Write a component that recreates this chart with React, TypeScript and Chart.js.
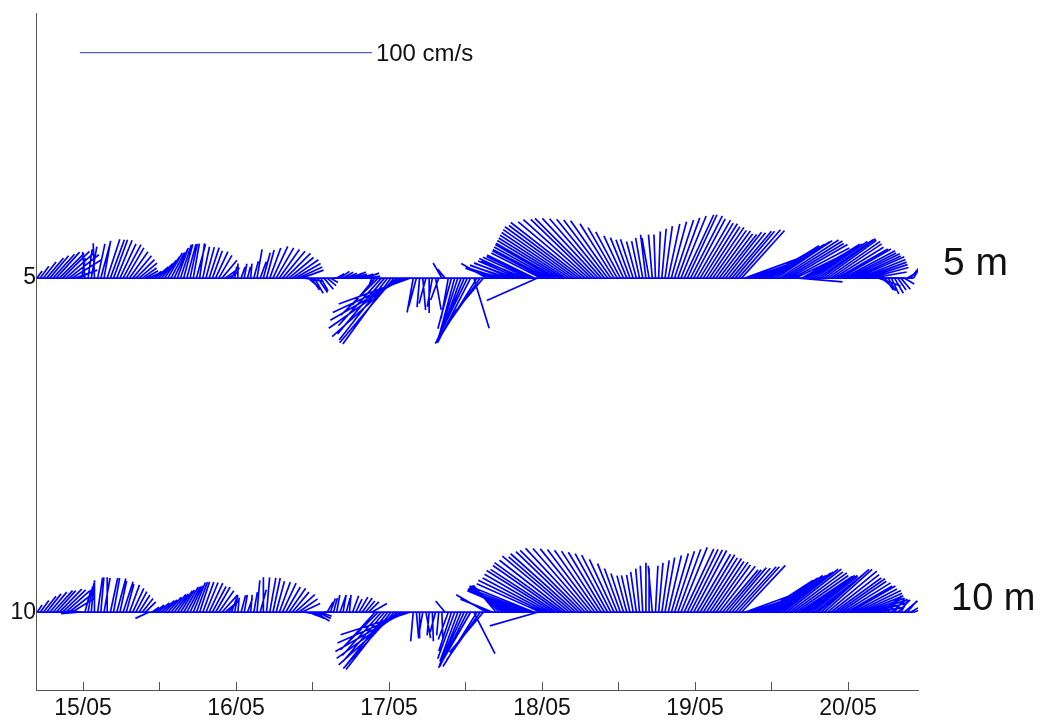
import { useEffect, useRef } from 'react';
import { Chart, registerables } from 'chart.js';

Chart.register(...registerables);

// ---- time base (days of May) ----
const START_DAY = 14.7;
const STEP_DAY = 1 / 48; // 30 min

// ---- depths (m) ----
const DEPTHS = [5, 10];
const DEPTH_LABELS = ['5 m', '10 m'];

// ---- 5 m: speed (cm/s) and direction toward (deg, clockwise from north) ----
const SPEED_5M = [
  3, 5, 7, 9, 10, 11, 12, 12, 13, 13, 13, 12,
  8, 6, 7, 9, 10, 11, 12, 12, 13, 13, 14, 14,
  14, 14, 13, 13, 12, 11, 10, 9, 8, 6, 5, 4,
  4, 6, 7, 8, 9, 10, 10, 11, 11, 12, 12, 12,
  12, 12, 12, 12, 11, 11, 11, 10, 10, 9, 8, 6,
  4, 3, 4, 5, 4, 5, 4, 5, 6, 10, 6, 9,
  10, 11, 12, 12, 12, 12, 12, 11, 11, 10, 9, 8,
  6, 5, 5, 6, 6, 5, 5, 4, 3, 2, 3, 4,
  4, 4, 5, 5, 4, 5, 4, 5, 4, 3, 12, 18,
  22, 25, 27, 28, 29, 30, 30, 29, 28, 26, 12, 10,
  10, 11, 9, 12, 10, 11, 8, 6, 4, 14, 18, 20,
  22, 23, 24, 25, 25, 18, 24, 20, 17, 10, 8, 10,
  8, 10, 12, 13, 14, 14, 15, 15, 16, 16, 17, 17,
  18, 19, 19, 20, 21, 22, 23, 24, 25, 26, 27, 28,
  29, 30, 30, 31, 30, 30, 29, 29, 28, 27, 26, 25,
  24, 22, 20, 18, 16, 15, 14, 14, 13, 13, 14, 15,
  14, 15, 15, 16, 17, 18, 19, 20, 21, 22, 23, 24,
  24, 24, 23, 23, 22, 22, 21, 21, 20, 20, 19, 19,
  20, 20, 21, 21, 22, 22, 20, 12, 14, 16, 18, 19,
  20, 21, 22, 23, 23, 24, 24, 23, 23, 22, 22, 15,
  22, 22, 21, 21, 22, 23, 23, 22, 22, 21, 20, 20,
  20, 20, 19, 19, 18, 18, 17, 16, 15, 14, 12, 10,
  8, 6, 5, 5, 6, 6, 5, 5, 4, 4, 5, 6,
];
const DIR_5M = [
  35, 36, 38, 40, 40, 42, 42, 45, 45, 48, 52, 58,
  70, 65, 10, 355, 8, 10, 358, 12, 15, 10, 18, 20,
  20, 22, 25, 28, 30, 35, 40, 45, 50, 55, 60, 65,
  55, 50, 45, 40, 35, 30, 28, 25, 20, 18, 15, 15,
  12, 10, 15, 8, 12, 15, 18, 20, 25, 30, 40, 55,
  60, 30, 10, 0, 20, 10, 15, 5, 15, 10, 20, 15,
  15, 20, 25, 30, 35, 40, 45, 50, 55, 60, 65, 70,
  100, 130, 145, 150, 145, 150, 140, 130, 120, 90, 60, 55,
  60, 65, 70, 65, 70, 75, 70, 70, 80, 200, 220, 225,
  222, 220, 218, 216, 220, 228, 235, 240, 245, 250, 190, 195,
  185, 175, 195, 180, 190, 170, 200, 330, 320, 190, 195, 195,
  198, 200, 203, 206, 207, 163, 212, 215, 220, 300, 295, 290,
  290, 288, 285, 290, 288, 292, 290, 293, 295, 292, 295, 296,
  296, 246, 297, 298, 298, 299, 300, 300, 301, 302, 303, 304,
  305, 306, 307, 308, 310, 312, 314, 315, 317, 319, 321, 323,
  325, 328, 330, 332, 335, 338, 340, 342, 345, 348, 350, 353,
  350, 355, 358, 2, 5, 8, 12, 15, 18, 20, 22, 25,
  25, 27, 28, 30, 31, 32, 33, 34, 35, 36, 37, 38,
  38, 39, 40, 40, 41, 42, 70, 72, 70, 68, 66, 64,
  60, 58, 58, 57, 56, 57, 58, 59, 60, 62, 64, 95,
  60, 58, 57, 56, 55, 55, 54, 54, 55, 56, 58, 60,
  60, 62, 63, 64, 65, 66, 68, 70, 72, 75, 80, 90,
  110, 130, 145, 150, 155, 150, 145, 140, 120, 60, 40, 30,
];

// ---- 10 m ----
const SPEED_10M = [
  3, 5, 7, 8, 9, 10, 10, 11, 11, 11, 10, 9,
  6, 6, 5, 8, 9, 10, 11, 12, 12, 12, 12, 12,
  12, 12, 11, 11, 10, 10, 9, 8, 7, 6, 5, 5,
  3, 4, 5, 6, 6, 7, 8, 8, 9, 9, 10, 10,
  10, 11, 11, 11, 11, 11, 11, 10, 10, 9, 8, 6,
  5, 5, 6, 5, 6, 6, 5, 6, 7, 11, 8, 12,
  12, 12, 12, 11, 11, 11, 10, 10, 9, 9, 8, 7,
  6, 6, 5, 6, 5, 4, 3, 4, 5, 5, 6, 6,
  6, 5, 6, 6, 5, 6, 6, 5, 5, 6, 14, 18,
  20, 22, 24, 25, 26, 27, 27, 27, 26, 25, 10, 9,
  9, 8, 9, 8, 10, 7, 8, 9, 5, 10, 14, 17,
  18, 19, 20, 21, 22, 16, 22, 20, 18, 12, 10, 12,
  12, 13, 14, 15, 16, 17, 18, 19, 20, 21, 22, 23,
  24, 17, 24, 25, 25, 26, 27, 27, 28, 29, 29, 30,
  29, 30, 30, 30, 30, 29, 28, 27, 26, 25, 24, 23,
  22, 20, 18, 16, 14, 13, 13, 13, 14, 15, 16, 17,
  15, 16, 16, 17, 18, 19, 20, 21, 22, 23, 24, 24,
  24, 24, 24, 23, 23, 22, 22, 21, 21, 20, 20, 19,
  19, 20, 20, 21, 21, 22, 20, 13, 15, 17, 18, 19,
  20, 21, 22, 22, 23, 23, 24, 24, 23, 23, 22, 22,
  22, 21, 21, 20, 20, 21, 22, 22, 22, 21, 20, 20,
  19, 19, 18, 18, 17, 17, 16, 15, 14, 13, 12, 10,
  9, 8, 8, 7, 7, 6, 6, 5, 6, 5, 5, 4,
];
const DIR_10M = [
  35, 36, 38, 38, 40, 42, 42, 44, 46, 48, 52, 58,
  270, 265, 275, 15, 10, 5, 0, 8, 5, 10, 0, 12,
  10, 15, 12, 18, 15, 20, 25, 28, 32, 38, 45, 245,
  55, 52, 50, 48, 45, 42, 40, 38, 35, 32, 30, 28,
  25, 22, 20, 18, 20, 22, 25, 28, 30, 35, 42, 50,
  40, 20, 10, 5, 15, 10, 20, 5, 10, 5, 15, 0,
  5, 10, 12, 15, 20, 25, 30, 35, 40, 48, 55, 65,
  100, 110, 115, 120, 115, 110, 90, 30, 20, 15, 10, 20,
  10, 15, 5, 20, 25, 30, 35, 40, 45, 60, 222, 225,
  222, 220, 218, 218, 222, 228, 234, 240, 246, 252, 185, 175,
  180, 190, 170, 185, 178, 195, 185, 178, 320, 200, 198, 200,
  200, 202, 205, 207, 210, 153, 212, 215, 220, 300, 295, 292,
  320, 315, 310, 305, 300, 298, 295, 293, 292, 291, 290, 291,
  292, 254, 294, 296, 298, 300, 302, 303, 305, 306, 308, 310,
  311, 312, 314, 315, 317, 319, 321, 323, 325, 327, 329, 331,
  333, 335, 338, 340, 342, 345, 347, 350, 352, 355, 357, 0,
  0, 355, 3, 5, 8, 10, 13, 16, 18, 20, 22, 25,
  26, 27, 28, 30, 31, 32, 33, 34, 35, 36, 38, 40,
  40, 40, 41, 42, 42, 43, 70, 72, 70, 68, 66, 62,
  57, 56, 55, 55, 54, 53, 52, 52, 53, 54, 55, 56,
  55, 54, 53, 52, 52, 50, 48, 48, 50, 52, 54, 55,
  56, 58, 60, 60, 62, 64, 66, 68, 70, 72, 75, 80,
  60, 50, 45, 40, 50, 35, 45, 30, 50, 40, 60, 70,
];

// ---- axes ----
const X_TICK_VALUES = [15, 15.5, 16, 16.5, 17, 17.5, 18, 18.5, 19, 19.5, 20];
const X_TICK_LABELS = ['15/05', '', '16/05', '', '17/05', '', '18/05', '', '19/05', '', '20/05'];
const Y_TICK_VALUES = [5, 10];
const X_MIN = 14.693;
const X_MAX = 20.4575;
const Y_MIN = 1.045;
const Y_MAX = 11.164;

// ---- scale bar ----
const SCALE_SPEED = 100; // cm/s
const SCALE_LABEL = '100 cm/s';
const SCALE_AT_DAY = 14.98;
const SCALE_AT_DEPTH = 1.627;

// ---- drawing geometry (styles) ----
const W = 1046;
const H = 720;
const PAD_TOP = 12;
const PAD_RIGHT = 128;
const Y_AXIS_W = 36;
const X_AXIS_H = 30;
const PX_PER_CMS = 2.92;
const PLOT_W = W - PAD_RIGHT - Y_AXIS_W;
const PLOT_H = H - PAD_TOP - X_AXIS_H;
const KX = (PX_PER_CMS * (X_MAX - X_MIN)) / PLOT_W;
const KY = (PX_PER_CMS * (Y_MAX - Y_MIN)) / PLOT_H;

const FONT = '"Liberation Sans", Arial, Helvetica, sans-serif';
const BLUE = '#0000ff';
const STICK_W = 1.7;

function sticks(depth: number, speeds: number[], dirs: number[]) {
  const pts: { x: number; y: number | null }[] = [];
  speeds.forEach((s, i) => {
    const t = START_DAY + i * STEP_DAY;
    const r = (dirs[i] * Math.PI) / 180;
    const u = s * Math.sin(r);
    const v = s * Math.cos(r);
    pts.push({ x: t, y: depth });
    pts.push({ x: t + u * KX, y: depth - v * KY });
    pts.push({ x: t, y: null });
  });
  return pts;
}

function baseline(depth: number, n: number) {
  return [
    { x: START_DAY, y: depth },
    { x: START_DAY + (n - 1) * STEP_DAY, y: depth },
  ];
}

const overlayPlugin = {
  id: 'overlay',
  afterDraw(chart: any) {
    const { ctx, chartArea } = chart;
    const xs = chart.scales.x;
    const ys = chart.scales.y;
    ctx.save();
    // inward ticks on the time axis
    ctx.strokeStyle = '#555555';
    ctx.lineWidth = 1;
    X_TICK_VALUES.forEach((v) => {
      const px = Math.round(xs.getPixelForValue(v)) + 0.5;
      ctx.beginPath();
      ctx.moveTo(px, chartArea.bottom);
      ctx.lineTo(px, chartArea.bottom - 8);
      ctx.stroke();
    });
    // scale bar label
    ctx.fillStyle = '#111111';
    ctx.font = `24px ${FONT}`;
    ctx.textAlign = 'left';
    ctx.textBaseline = 'middle';
    ctx.fillText(
      SCALE_LABEL,
      xs.getPixelForValue(SCALE_AT_DAY + SCALE_SPEED * KX) + 4,
      ys.getPixelForValue(SCALE_AT_DEPTH) + 2
    );
    // depth labels
    ctx.textBaseline = 'alphabetic';
    DEPTH_LABELS.forEach((lab, i) => {
      const dx = i === 0 ? 25 : 33;
      const dy = i === 0 ? -3 : -2;
      ctx.font = `${i === 0 ? 39 : 38}px ${FONT}`;
      ctx.fillText(lab, chartArea.right + dx, ys.getPixelForValue(DEPTHS[i]) + dy);
    });
    ctx.restore();
  },
};

export default function App() {
  const ref = useRef<HTMLCanvasElement | null>(null);

  useEffect(() => {
    if (!ref.current) return;
    const n5 = SPEED_5M.length;
    const n10 = SPEED_10M.length;
    const lineDs = (data: any[], color: string, width: number) => ({
      data,
      showLine: true,
      borderColor: color,
      borderWidth: width,
      pointRadius: 0,
      pointHoverRadius: 0,
      spanGaps: false,
      fill: false,
    });
    const chart = new Chart(ref.current, {
      type: 'scatter',
      data: {
        datasets: [
          lineDs(baseline(DEPTHS[0], n5), BLUE, STICK_W),
          lineDs(baseline(DEPTHS[1], n10), BLUE, STICK_W),
          lineDs(sticks(DEPTHS[0], SPEED_5M, DIR_5M), BLUE, STICK_W),
          lineDs(sticks(DEPTHS[1], SPEED_10M, DIR_10M), BLUE, STICK_W),
          lineDs(
            [
              { x: SCALE_AT_DAY, y: SCALE_AT_DEPTH },
              { x: SCALE_AT_DAY + SCALE_SPEED * KX, y: SCALE_AT_DEPTH },
            ],
            '#5b5bc8',
            1.2
          ),
        ] as any,
      },
      options: {
        responsive: false,
        animation: false,
        devicePixelRatio: 1,
        events: [],
        layout: { padding: { top: PAD_TOP, right: PAD_RIGHT, left: 0, bottom: 0 } },
        plugins: {
          legend: { display: false },
          tooltip: { enabled: false },
          title: { display: false },
        },
        scales: {
          x: {
            type: 'linear',
            position: 'bottom',
            min: X_MIN,
            max: X_MAX,
            afterBuildTicks: (scale: any) => {
              scale.ticks = X_TICK_VALUES.map((v) => ({ value: v }));
            },
            afterFit: (scale: any) => {
              scale.height = X_AXIS_H;
            },
            ticks: {
              autoSkip: false,
              maxRotation: 0,
              minRotation: 0,
              padding: 5,
              color: '#111111',
              font: { family: FONT, size: 23 },
              callback: (_v: any, i: number) => X_TICK_LABELS[i],
            },
            grid: { display: false, drawTicks: false },
            border: { display: true, color: '#555555', width: 1 },
          },
          y: {
            type: 'linear',
            position: 'left',
            reverse: true,
            min: Y_MIN,
            max: Y_MAX,
            afterBuildTicks: (scale: any) => {
              scale.ticks = Y_TICK_VALUES.map((v) => ({ value: v }));
            },
            afterFit: (scale: any) => {
              scale.width = Y_AXIS_W;
            },
            ticks: {
              padding: 0,
              color: '#111111',
              font: { family: FONT, size: 23 },
              callback: (v: any) => String(v),
            },
            grid: { display: false, drawTicks: false },
            border: { display: true, color: '#555555', width: 1 },
          },
        },
      },
      plugins: [overlayPlugin],
    });
    return () => chart.destroy();
  }, []);

  return (
    <div style={{ position: 'absolute', left: 0, top: 0, width: W, height: H, background: '#ffffff' }}>
      <canvas ref={ref} width={W} height={H} style={{ display: 'block' }} />
    </div>
  );
}
